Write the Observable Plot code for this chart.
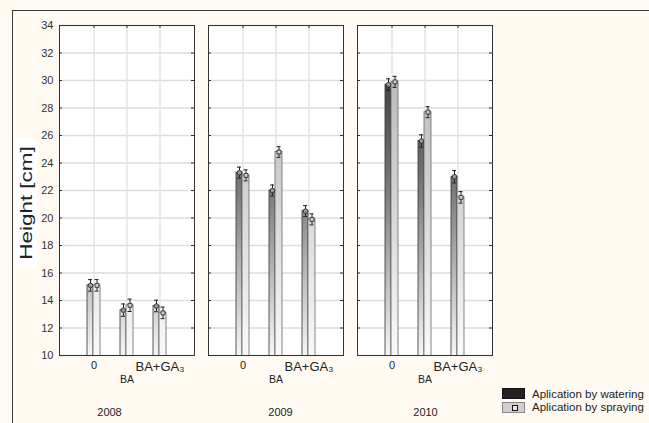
<!DOCTYPE html>
<html><head><meta charset="utf-8">
<script src="https://cdn.jsdelivr.net/npm/d3@7"></script>
<script src="https://cdn.jsdelivr.net/npm/@observablehq/plot@0.6"></script>
<style>
html,body{margin:0;padding:0;background:#fffbf2;}
#wrap{position:relative;width:649px;height:423px;overflow:hidden;font-family:"Liberation Sans",Arial,sans-serif;}
#frame{position:absolute;left:12px;top:10px;width:700px;height:500px;border-top:1px solid #3a3a3a;border-left:1px solid #3a3a3a;}
#chart{position:absolute;left:0;top:0;}
#ytitle{position:absolute;left:15px;top:138px;width:22px;height:130px;background:#fff;}
#ytitle span{position:absolute;left:50%;top:50%;white-space:nowrap;font-size:16.5px;color:#222;transform:translate(-50%,-50%) rotate(-90deg) scaleX(1.36);}
.sw{position:absolute;left:502px;width:23px;height:11px;box-sizing:border-box;}
.lt{position:absolute;left:532px;font-size:11.5px;line-height:12px;color:#222;white-space:nowrap;}
</style>
</head><body>
<div id="wrap">
  <div id="frame"></div>
  <div id="chart"></div>
  <div id="ytitle"><span>Height [cm]</span></div>
  <div id="legend"></div>
</div>
<script>
const years = [2008, 2009, 2010];
const treatments = ["0", "BA", "BA+GA₃"];
const watering = [15.1, 13.3, 13.6, 23.3, 22.0, 20.5, 29.7, 25.6, 23.0];
const spraying = [15.1, 13.65, 13.1, 23.1, 24.8, 19.9, 29.9, 27.7, 21.5];
const wateringErr = [0.42, 0.45, 0.42, 0.4, 0.4, 0.4, 0.42, 0.45, 0.45];
const sprayingErr = [0.42, 0.45, 0.42, 0.4, 0.39, 0.4, 0.4, 0.4, 0.42];
const yTicks = [10, 12, 14, 16, 18, 20, 22, 24, 26, 28, 30, 32, 34];
const seriesLabels = ["Aplication by watering", "Aplication by spraying"];
const yearDx = [-17.5, 4.5, 0.5];

const rows = [];
years.forEach((yr, i) => treatments.forEach((t, j) => {
  const k = i * 3 + j;
  rows.push({year: yr, treatment: t, watering: watering[k], spraying: spraying[k], ew: wateringErr[k], es: sprayingErr[k]});
}));

const ink = "#222";
const W_SENT = "#010203", S_SENT = "#040506";
const chart = Plot.plot({
  width: 649, height: 423,
  marginLeft: 59, marginRight: 157, marginTop: 25, marginBottom: 68,
  style: {background: "transparent", fontFamily: "'Liberation Sans', Arial, sans-serif", fontSize: "11px", color: "#333", overflow: "visible"},
  fx: {domain: years, paddingInner: 14 / 149, paddingOuter: 0, axis: null},
  x: {domain: treatments, paddingInner: 1 - 13 / 33.75, paddingOuter: (1 + (1 - 13 / 33.75)) / 2, axis: null},
  y: {domain: [10, 34], axis: null},
  marks: [
    Plot.frame({fill: "white", stroke: "none"}),
    Plot.ruleY(yTicks, {y: d => d, stroke: "#dddddd", strokeWidth: 1.5}),
    Plot.ruleX(treatments, {x: d => d, stroke: "#e0e0e0", strokeWidth: 1.3}),
    Plot.barY(rows, {fx: "year", x: "treatment", y: "watering", insetRight: 7, fill: W_SENT, stroke: "#333", strokeWidth: 0.8, clip: true}),
    Plot.barY(rows, {fx: "year", x: "treatment", y: "spraying", insetLeft: 6, fill: S_SENT, stroke: "#666", strokeWidth: 0.8, clip: true}),
    // whiskers watering
    Plot.ruleX(rows, {fx: "year", x: "treatment", y1: d => d.watering - d.ew, y2: d => d.watering + d.ew, dx: -3.5, stroke: ink, strokeWidth: 1}),
    Plot.tickY(rows, {fx: "year", x: "treatment", y: d => d.watering + d.ew, insetLeft: 1, insetRight: 8, stroke: ink}),
    Plot.tickY(rows, {fx: "year", x: "treatment", y: d => d.watering - d.ew, insetLeft: 1, insetRight: 8, stroke: ink}),
    // whiskers spraying
    Plot.ruleX(rows, {fx: "year", x: "treatment", y1: d => d.spraying - d.es, y2: d => d.spraying + d.es, dx: 3, stroke: ink, strokeWidth: 1}),
    Plot.tickY(rows, {fx: "year", x: "treatment", y: d => d.spraying + d.es, insetLeft: 7.5, insetRight: 1.5, stroke: ink}),
    Plot.tickY(rows, {fx: "year", x: "treatment", y: d => d.spraying - d.es, insetLeft: 7.5, insetRight: 1.5, stroke: ink}),
    Plot.dot(rows, {fx: "year", x: "treatment", y: "watering", dx: -3.5, symbol: "circle", r: 2.3, fill: "#999", stroke: ink, strokeWidth: 0.8}),
    Plot.dot(rows, {fx: "year", x: "treatment", y: "spraying", dx: 3, symbol: "square", r: 2.2, fill: "#d0d0d0", stroke: ink, strokeWidth: 0.8}),
    Plot.frame({stroke: "#333", strokeWidth: 1}),
    // inward ticks
    Plot.ruleY(yTicks, {y: d => d, insetRight: 132, stroke: "#333"}),
    Plot.ruleY(yTicks, {y: d => d, insetLeft: 132, stroke: "#333"}),
    Plot.ruleX(treatments, {x: d => d, insetBottom: 327, stroke: "#333"}),
    // y tick labels
    Plot.text(yTicks.map(v => ({year: years[0], v})), {fx: "year", y: "v", text: d => String(d.v), frameAnchor: "left", textAnchor: "end", dx: -6, fontSize: 11, fill: "#333"}),
    // x labels
    Plot.text(rows.filter(r => r.treatment === treatments[0]), {fx: "year", x: "treatment", text: "treatment", frameAnchor: "bottom", dy: 13.5, fontSize: 11, fill: ink}),
    Plot.text(rows.filter(r => r.treatment === treatments[1]), {fx: "year", x: "treatment", text: "treatment", frameAnchor: "bottom", dy: 27.5, fontSize: 10.5, fill: ink}),
    Plot.text(rows.filter(r => r.treatment === treatments[2]), {fx: "year", x: "treatment", text: "treatment", frameAnchor: "bottom", dy: 15, fontSize: 13, fill: ink}),
    // year labels
    ...years.map((yr, i) => Plot.text([{year: yr}], {fx: "year", text: d => String(d.year), frameAnchor: "bottom", dy: 60, dx: yearDx[i], fontSize: 11, fill: ink}))
  ]
});

// gradients for bars
const ns = "http://www.w3.org/2000/svg";
const defs = document.createElementNS(ns, "defs");
function grad(id, stops) {
  const lg = document.createElementNS(ns, "linearGradient");
  lg.setAttribute("id", id);
  lg.setAttribute("gradientUnits", "userSpaceOnUse");
  lg.setAttribute("x1", "0"); lg.setAttribute("y1", "25");
  lg.setAttribute("x2", "0"); lg.setAttribute("y2", "355");
  stops.forEach(([o, c]) => {
    const s = document.createElementNS(ns, "stop");
    s.setAttribute("offset", o); s.setAttribute("stop-color", c);
    lg.appendChild(s);
  });
  defs.appendChild(lg);
}
grad("gW", [[0, "#262626"], [0.5, "#7a7a7a"], [0.8, "#c4c4c4"], [1, "#f6f6f6"]]);
grad("gS", [[0, "#b0b0b0"], [0.5, "#d2d2d2"], [1, "#fafafa"]]);
chart.insertBefore(defs, chart.firstChild);
const swap = (sent, id) => chart.querySelectorAll("*").forEach(el => {
  const f = el.getAttribute("fill");
  if (f && f.toLowerCase() === sent) el.setAttribute("fill", "url(#" + id + ")");
  if (el.style && el.style.fill && (el.style.fill === sent || el.style.fill.replace(/\s/g, "") === "rgb(1,2,3)" && sent === W_SENT || el.style.fill.replace(/\s/g, "") === "rgb(4,5,6)" && sent === S_SENT)) el.style.fill = "url(#" + id + ")";
});
swap(W_SENT, "gW");
swap(S_SENT, "gS");
document.getElementById("chart").appendChild(chart);

// legend
const legend = document.getElementById("legend");
const sw1 = document.createElement("div"); sw1.className = "sw"; sw1.style.top = "388px"; sw1.style.background = "#222"; sw1.style.border = "1px solid #111";
const sw2 = document.createElement("div"); sw2.className = "sw"; sw2.style.top = "401.5px"; sw2.style.background = "#cfcfcf"; sw2.style.border = "1px solid #888";
const mk = document.createElement("div"); mk.style.cssText = "position:absolute;left:8.5px;top:2.5px;width:4px;height:4px;border:1px solid #111;background:#e6e6e6;";
sw2.appendChild(mk);
const t1 = document.createElement("div"); t1.className = "lt"; t1.style.top = "387.5px"; t1.textContent = seriesLabels[0];
const t2 = document.createElement("div"); t2.className = "lt"; t2.style.top = "401px"; t2.textContent = seriesLabels[1];
legend.append(sw1, sw2, t1, t2);
</script>
</body></html>
